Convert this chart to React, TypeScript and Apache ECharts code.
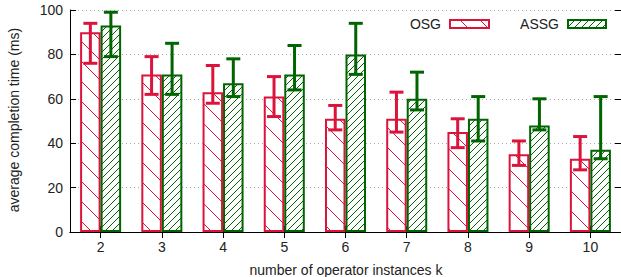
import React, { useEffect, useRef } from "react";
import * as echarts from "echarts";

const categories = ["2", "3", "4", "5", "6", "7", "8", "9", "10"];
const osgMean = [90, 71, 63, 61, 51, 51, 45, 35, 33];
const osgLow = [76, 62, 58, 52, 46, 45, 38, 30, 28];
const osgHigh = [94, 79, 75, 70, 57, 63, 51, 41, 43];
const assgMean = [93, 71, 67, 71, 80, 60, 51, 48, 37];
const assgLow = [79, 62, 61, 64, 71, 55, 41, 46, 33];
const assgHigh = [99, 85, 78, 84, 94, 72, 61, 60, 61];
const yTicks = [0, 20, 40, 60, 80, 100];

const RED = "#dc143c";
const GREEN = "#006400";
const FONT = "'Liberation Sans', Arial, sans-serif";
const BAR_FRAC = 0.335;

function makePattern(size: number, color: string, dir: "back" | "fwd", lw: number) {
  const c = document.createElement("canvas");
  c.width = size;
  c.height = size;
  const ctx = c.getContext("2d")!;
  ctx.fillStyle = "#ffffff";
  ctx.fillRect(0, 0, size, size);
  ctx.strokeStyle = color;
  ctx.lineWidth = lw;
  ctx.beginPath();
  if (dir === "back") {
    for (const o of [-size, 0, size]) {
      ctx.moveTo(-1 + o, -1);
      ctx.lineTo(size + 1 + o, size + 1);
    }
  } else {
    for (const o of [-size, 0, size]) {
      ctx.moveTo(-1 + o, size + 1);
      ctx.lineTo(size + 1 + o, -1);
    }
  }
  ctx.stroke();
  return c;
}

export default function App() {
  const ref = useRef<HTMLDivElement>(null);
  useEffect(() => {
    if (!ref.current) return;
    const chart = echarts.init(ref.current, undefined, { renderer: "svg" });
    const osgPat = { image: makePattern(20, RED, "back", 1), repeat: "repeat" };
    const assgPat = { image: makePattern(7, GREEN, "fwd", 1), repeat: "repeat" };

    const errSeries = (low: number[], high: number[], color: string, side: number, name: string) => ({
      type: "custom",
      name,
      z: 5,
      xAxisIndex: 0,
      yAxisIndex: 0,
      data: low.map((l, i) => [i, l, high[i]]),
      encode: { x: 0, y: [1, 2] },
      renderItem: (params: any, api: any) => {
        const i = api.value(0);
        const band = api.size([1, 0])[0];
        const off = (side * band * BAR_FRAC) / 2;
        const lo = api.coord([i, api.value(1)]);
        const hi = api.coord([i, api.value(2)]);
        const x = lo[0] + off;
        const cap = 7;
        const style = { stroke: color, lineWidth: 3 };
        return {
          type: "group",
          children: [
            { type: "line", shape: { x1: x, y1: lo[1], x2: x, y2: hi[1] }, style },
            { type: "line", shape: { x1: x - cap, y1: lo[1], x2: x + cap, y2: lo[1] }, style },
            { type: "line", shape: { x1: x - cap, y1: hi[1], x2: x + cap, y2: hi[1] }, style },
          ],
        };
      },
    });

    const axisLine = { show: true, lineStyle: { color: "#000", width: 1 } };
    const tick = { show: true, inside: true, length: 6, lineStyle: { color: "#000" } };

    chart.setOption({
      animation: false,
      grid: { left: 70, top: 10, width: 552, height: 222, containLabel: false },
      xAxis: [
        {
          type: "category",
          data: categories,
          position: "bottom",
          axisLine,
          axisTick: { ...tick, alignWithLabel: true },
          axisLabel: { fontSize: 14, color: "#222", fontFamily: FONT, margin: 8 },
        },
        {
          type: "category",
          data: categories,
          position: "top",
          axisLine,
          axisTick: { ...tick, alignWithLabel: true },
          axisLabel: { show: false },
        },
      ],
      yAxis: [
        {
          type: "value",
          min: yTicks[0],
          max: yTicks[yTicks.length - 1],
          interval: 20,
          axisLine,
          axisTick: tick,
          axisLabel: { fontSize: 14, color: "#222", fontFamily: FONT, margin: 7 },
          splitLine: { show: true, lineStyle: { color: "#aaaaaa", type: [1, 3], width: 1 } },
        },
        {
          type: "value",
          position: "right",
          min: yTicks[0],
          max: yTicks[yTicks.length - 1],
          interval: 20,
          axisLine,
          axisTick: tick,
          axisLabel: { show: false },
          splitLine: { show: false },
        },
      ],
      series: [
        {
          type: "bar",
          name: "OSG",
          data: osgMean,
          barWidth: BAR_FRAC * 100 + "%",
          barGap: "0%",
          itemStyle: { color: osgPat, borderColor: RED, borderWidth: 2 },
        },
        {
          type: "bar",
          name: "ASSG",
          data: assgMean,
          barWidth: BAR_FRAC * 100 + "%",
          barGap: "0%",
          itemStyle: { color: assgPat, borderColor: GREEN, borderWidth: 2 },
        },
        errSeries(osgLow, osgHigh, RED, -1, "OSG err"),
        errSeries(assgLow, assgHigh, GREEN, 1, "ASSG err"),
      ],
      graphic: [
        {
          type: "text",
          x: 14,
          y: 120,
          rotation: Math.PI / 2,
          style: {
            text: "average completion time (ms)",
            fontSize: 14,
            fontFamily: FONT,
            fill: "#222",
            align: "center",
            verticalAlign: "middle",
          },
        },
        {
          type: "text",
          x: 346,
          y: 270,
          style: {
            text: "number of operator instances k",
            fontSize: 14,
            fontFamily: FONT,
            fill: "#222",
            align: "center",
            verticalAlign: "middle",
          },
        },
        {
          type: "text",
          x: 441,
          y: 24,
          style: { text: "OSG", fontSize: 14, fontFamily: FONT, fill: "#222", align: "right", verticalAlign: "middle" },
        },
        {
          type: "rect",
          shape: { x: 450, y: 20, width: 39, height: 8 },
          style: { fill: osgPat as any, stroke: RED, lineWidth: 2 },
        },
        {
          type: "text",
          x: 559,
          y: 24,
          style: { text: "ASSG", fontSize: 14, fontFamily: FONT, fill: "#222", align: "right", verticalAlign: "middle" },
        },
        {
          type: "rect",
          shape: { x: 568, y: 20, width: 38, height: 8 },
          style: { fill: assgPat as any, stroke: GREEN, lineWidth: 2 },
        },
      ],
    } as any);
    return () => chart.dispose();
  }, []);
  return <div ref={ref} style={{ width: 621, height: 277, position: "absolute", left: 0, top: 0 }} />;
}
